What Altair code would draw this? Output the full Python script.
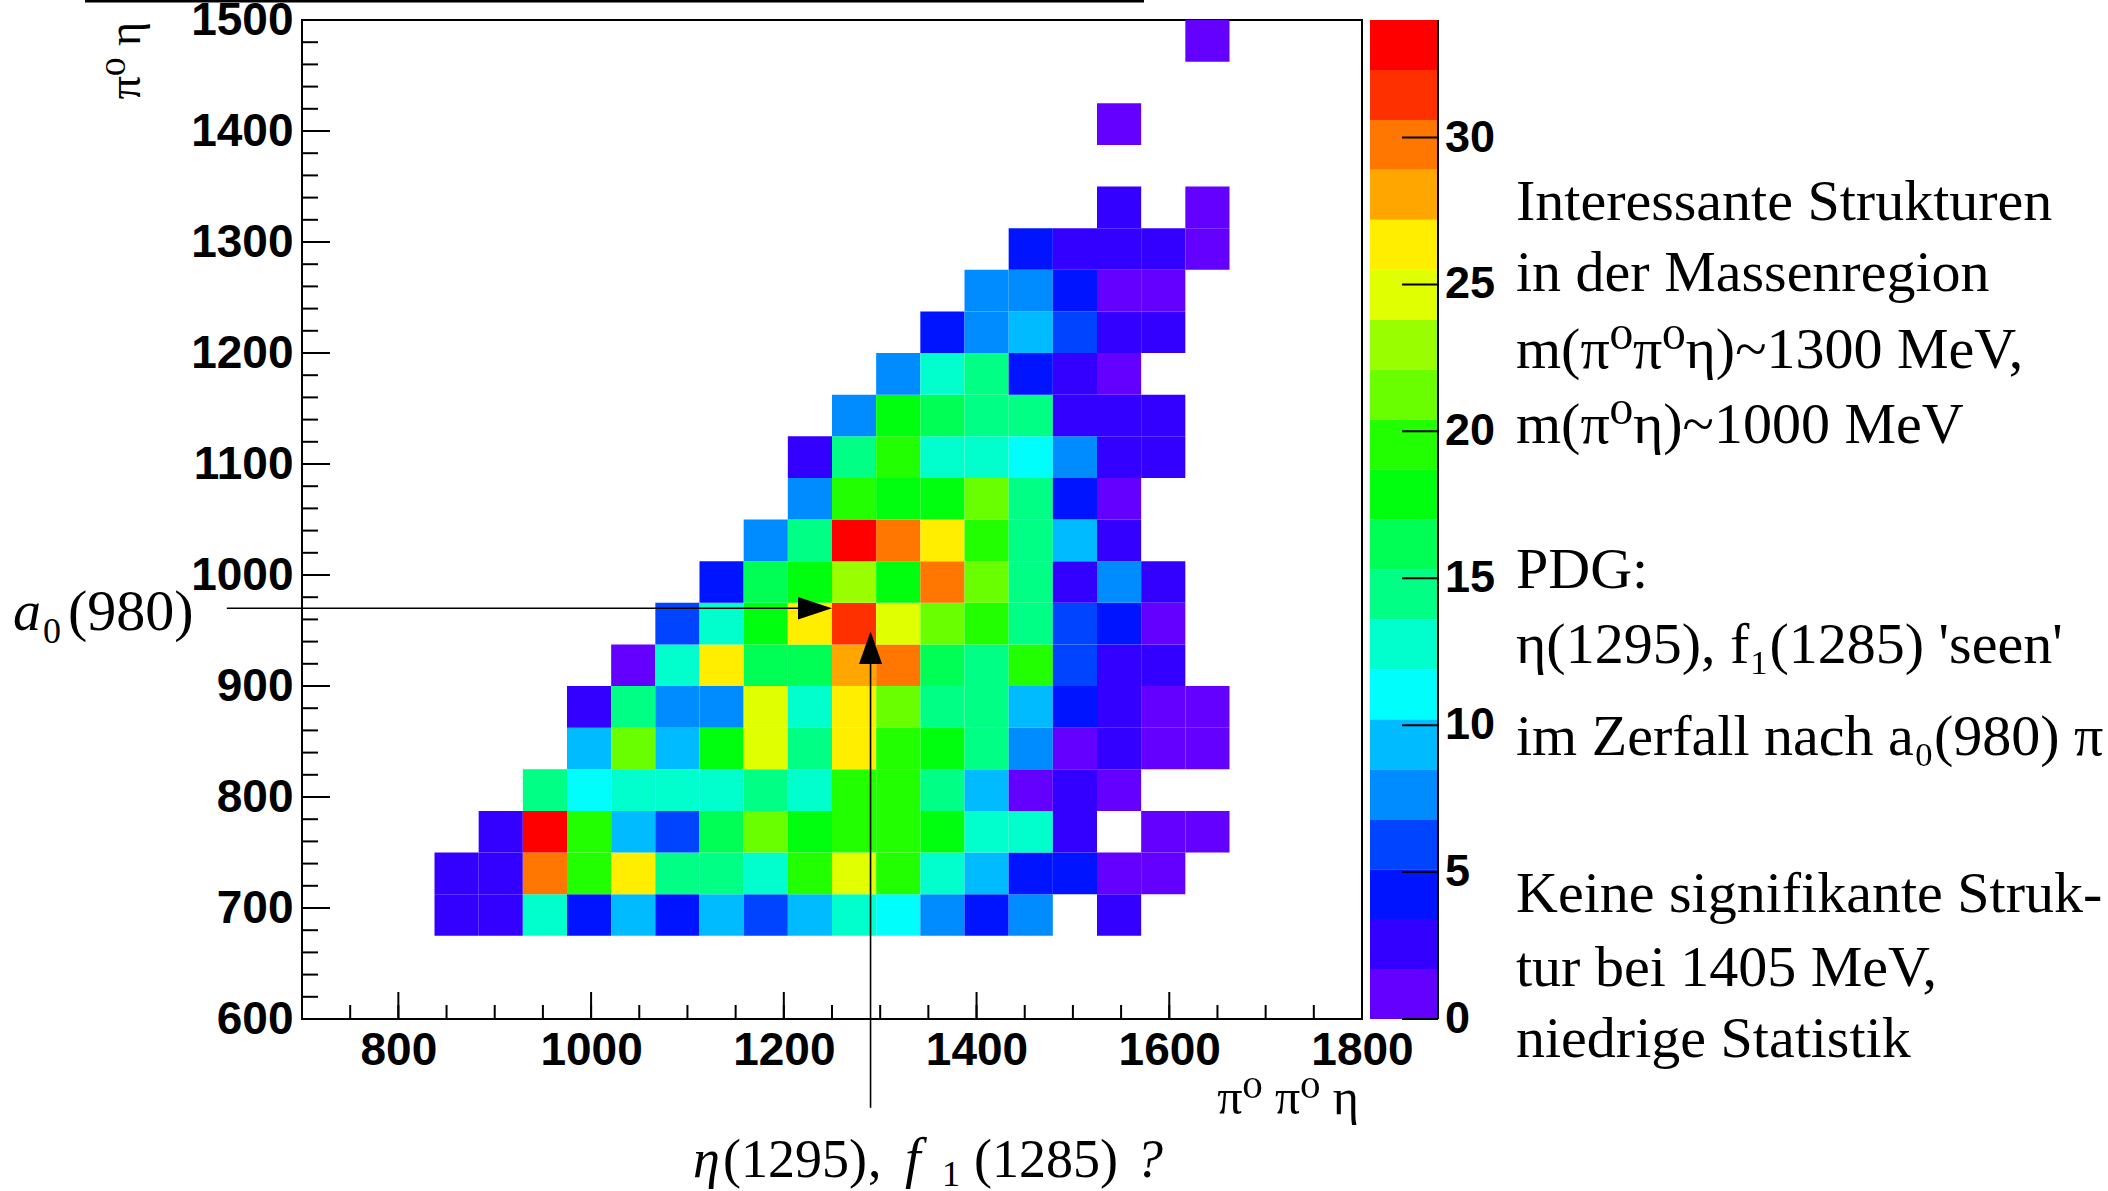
import altair as alt
import pandas as pd

# ---------------------------------------------------------------------------
# Binning of the Dalitz-like mass plot (MeV)
# ---------------------------------------------------------------------------
X_MIN, X_MAX, NX = 700.0, 1800.0, 24      # m(pi0 pi0 eta)
Y_MIN, Y_MAX, NY = 600.0, 1500.0, 24      # m(pi0 eta)
Z_MAX = 34.0                              # top of the colour scale
N_LEVELS = 20                             # number of colour contours

DX = (X_MAX - X_MIN) / NX
DY = (Y_MAX - Y_MIN) / NY

# Entries per bin.  Every row lists x-bins 3..20 (837.5 .. 1662.5 MeV);
# the row name gives the y-bin index (lower edge = 600 + 37.5 * index).
FIRST_COL = 3
row_j02 = [3, 2, 13, 4, 9, 5, 10, 6, 9, 12, 11, 7, 4, 8, 0, 2, 0, 0]
row_j03 = [2, 3, 29, 20, 26, 15, 14, 13, 19, 24, 20, 12, 10, 4, 5, 1, 1, 0]
row_j04 = [0, 3, 33, 20, 10, 6, 16, 21, 18, 19, 20, 18, 12, 13, 2, 0, 1, 1]
row_j05 = [0, 0, 14, 11, 12, 13, 12, 15, 13, 19, 20, 14, 9, 1, 2, 1, 0, 0]
row_j06 = [0, 0, 0, 10, 22, 9, 18, 25, 14, 27, 19, 18, 15, 8, 1, 2, 1, 1]
row_j07 = [0, 0, 0, 2, 14, 8, 7, 24, 12, 27, 21, 14, 15, 9, 4, 3, 1, 1]
row_j08 = [0, 0, 0, 0, 1, 13, 26, 16, 16, 28, 30, 16, 15, 19, 6, 3, 2, 0]
row_j09 = [0, 0, 0, 0, 0, 6, 12, 18, 27, 32, 25, 21, 20, 14, 6, 5, 1, 0]
row_j10 = [0, 0, 0, 0, 0, 0, 4, 16, 18, 23, 18, 29, 22, 15, 3, 8, 2, 0]
row_j11 = [0, 0, 0, 0, 0, 0, 0, 7, 15, 34, 30, 26, 19, 14, 9, 2, 0, 0]
row_j12 = [0, 0, 0, 0, 0, 0, 0, 0, 8, 20, 18, 18, 21, 14, 5, 1, 0, 0]
row_j13 = [0, 0, 0, 0, 0, 0, 0, 0, 3, 15, 19, 12, 13, 11, 8, 2, 3, 0]
row_j14 = [0, 0, 0, 0, 0, 0, 0, 0, 0, 7, 18, 16, 15, 14, 3, 3, 2, 0]
row_j15 = [0, 0, 0, 0, 0, 0, 0, 0, 0, 0, 8, 13, 14, 4, 2, 1, 0, 0]
row_j16 = [0, 0, 0, 0, 0, 0, 0, 0, 0, 0, 0, 5, 8, 10, 6, 3, 2, 0]
row_j17 = [0, 0, 0, 0, 0, 0, 0, 0, 0, 0, 0, 0, 8, 7, 4, 1, 1, 0]
row_j18 = [0, 0, 0, 0, 0, 0, 0, 0, 0, 0, 0, 0, 0, 5, 3, 2, 3, 1]
row_j19 = [0, 0, 0, 0, 0, 0, 0, 0, 0, 0, 0, 0, 0, 0, 0, 3, 0, 1]
row_j20 = [0, 0, 0, 0, 0, 0, 0, 0, 0, 0, 0, 0, 0, 0, 0, 0, 0, 0]
row_j21 = [0, 0, 0, 0, 0, 0, 0, 0, 0, 0, 0, 0, 0, 0, 0, 1, 0, 0]
row_j22 = [0, 0, 0, 0, 0, 0, 0, 0, 0, 0, 0, 0, 0, 0, 0, 0, 0, 0]
row_j23 = [0, 0, 0, 0, 0, 0, 0, 0, 0, 0, 0, 0, 0, 0, 0, 0, 0, 1]

ROWS = {
    2: row_j02, 3: row_j03, 4: row_j04, 5: row_j05, 6: row_j06, 7: row_j07,
    8: row_j08, 9: row_j09, 10: row_j10, 11: row_j11, 12: row_j12, 13: row_j13,
    14: row_j14, 15: row_j15, 16: row_j16, 17: row_j17, 18: row_j18, 19: row_j19,
    20: row_j20, 21: row_j21, 22: row_j22, 23: row_j23,
}

# Rainbow palette, one colour per contour level (violet -> red)
PALETTE = [
    "#6300ff", "#3300ff", "#0014ff", "#0044ff", "#008bff",
    "#00bbff", "#00fffc", "#00ffcc", "#00ff85", "#00ff55",
    "#00ff0e", "#22ff00", "#69ff00", "#99ff00", "#e0ff00",
    "#ffee00", "#ffa700", "#ff7700", "#ff3000", "#ff0000",
]

# Axis tick labels
X_LABELS = [800, 1000, 1200, 1400, 1600, 1800]
Y_LABELS = [600, 700, 800, 900, 1000, 1100, 1200, 1300, 1400, 1500]
Z_LABELS = [0, 5, 10, 15, 20, 25, 30]

# Annotation arrows (MeV)
A0_ARROW = {"x": 622.0, "x2": 1232.0, "tip": 1250.0, "y": 970.0}
ETA_ARROW = {"x": 1290.0, "y": 520.0, "y2": 930.0, "tip": 949.0}

RIGHT_TEXT = [
    "Interessante Strukturen",
    "in der Massenregion",
    "m(\u03c0\u2070\u03c0\u2070\u03b7)~1300 MeV,",
    "m(\u03c0\u2070\u03b7)~1000 MeV",
    "PDG:",
    "\u03b7(1295), f\u2081(1285) 'seen'",
    "im Zerfall nach a\u2080(980) \u03c0",
    "Keine signifikante Struk-",
    "tur bei 1405 MeV,",
    "niedrige Statistik",
]
RIGHT_TEXT_Y = [200, 271, 348, 423, 568, 643, 735, 892, 966, 1037]

# ---------------------------------------------------------------------------
# Data frames
# ---------------------------------------------------------------------------
cells = []
for j, row in ROWS.items():
    for k, c in enumerate(row):
        if c > 0:
            i = FIRST_COL + k
            cells.append({
                "x_lo": X_MIN + i * DX, "x_hi": X_MIN + (i + 1) * DX,
                "y_lo": Y_MIN + j * DY, "y_hi": Y_MIN + (j + 1) * DY,
                "count": c,
            })
cells = pd.DataFrame(cells)

step = Z_MAX / N_LEVELS
bands = pd.DataFrame({
    "lo": [b * step for b in range(N_LEVELS)],
    "hi": [(b + 1) * step for b in range(N_LEVELS)],
    "mid": [(b + 0.5) * step for b in range(N_LEVELS)],
})

y_minor = pd.DataFrame({"v": [Y_MIN + 20 * k for k in range(46)]})
y_major = pd.DataFrame({"v": [Y_MIN + 100 * k for k in range(10)]})
x_minor = pd.DataFrame({"v": [X_MIN + 50 * k for k in range(23)]})
x_major = pd.DataFrame({"v": [800 + 200 * k for k in range(6)]})
z_ticks = pd.DataFrame({"v": Z_LABELS, "t": [str(v) for v in Z_LABELS]})

# ---------------------------------------------------------------------------
# Scales and styles
# ---------------------------------------------------------------------------
W, H = 1060, 999
xs = alt.Scale(domain=[X_MIN, X_MAX], nice=False, zero=False)
ys = alt.Scale(domain=[Y_MIN, Y_MAX], nice=False, zero=False)
zs = alt.Scale(domain=[0, Z_MAX], nice=False, zero=False)
cs = alt.Scale(type="quantize", domain=[0, Z_MAX], range=PALETTE, nice=False, zero=False)

SANS = "Liberation Sans, Arial, Helvetica, sans-serif"
SERIF = "Liberation Serif, Times New Roman, DejaVu Serif, serif"

# ---------------------------------------------------------------------------
# Heat map
# ---------------------------------------------------------------------------
heat = alt.Chart(cells).mark_rect(strokeWidth=0).encode(
    x=alt.X("x_lo:Q", scale=xs, axis=alt.Axis(
        values=X_LABELS, format="d", ticks=False, domain=False, grid=False, title=None,
        labelFont=SANS, labelFontSize=46, labelFontWeight="bold",
        labelColor="black", labelPadding=9, labelFlush=False, labelOverlap=False)),
    x2="x_hi:Q",
    y=alt.Y("y_lo:Q", scale=ys, axis=alt.Axis(
        values=Y_LABELS, format="d", ticks=False, domain=False, grid=False, title=None,
        labelFont=SANS, labelFontSize=46, labelFontWeight="bold",
        labelColor="black", labelPadding=9, labelFlush=False, labelOverlap=False)),
    y2="y_hi:Q",
    color=alt.Color("count:Q", scale=cs, legend=None),
)

# inward-pointing axis ticks on the frame
def y_ticks(df, length):
    return alt.Chart(df).mark_rule(color="black", strokeWidth=2).encode(
        y=alt.Y("v:Q", scale=ys, axis=None), x=alt.value(0), x2=alt.value(length))

def x_ticks(df, length):
    return alt.Chart(df).mark_rule(color="black", strokeWidth=2).encode(
        x=alt.X("v:Q", scale=xs, axis=None), y=alt.value(H), y2=alt.value(H - length))

ticks = [y_ticks(y_minor, 16), y_ticks(y_major, 28), x_ticks(x_minor, 14), x_ticks(x_major, 27)]

# ---------------------------------------------------------------------------
# Colour bar (to the right of the frame)
# ---------------------------------------------------------------------------
CB_X0, CB_X1 = 1068, 1136
cbar = alt.Chart(bands).mark_rect(strokeWidth=0).encode(
    y=alt.Y("lo:Q", scale=zs, axis=None), y2="hi:Q",
    x=alt.value(CB_X0), x2=alt.value(CB_X1),
    color=alt.Color("mid:Q", scale=cs, legend=None),
)
cbar_edge = alt.Chart(pd.DataFrame({"v": [0.0], "v2": [Z_MAX]})).mark_rule(
    color="black", strokeWidth=2).encode(
    y=alt.Y("v:Q", scale=zs, axis=None), y2="v2:Q", x=alt.value(CB_X1))
cbar_ticks = alt.Chart(z_ticks).mark_rule(color="black", strokeWidth=2).encode(
    y=alt.Y("v:Q", scale=zs, axis=None), x=alt.value(CB_X1 - 36), x2=alt.value(CB_X1))
cbar_labels = alt.Chart(z_ticks).mark_text(
    align="left", baseline="middle", font=SANS, fontSize=45, fontWeight="bold",
    color="black").encode(
    y=alt.Y("v:Q", scale=zs, axis=None), x=alt.value(CB_X1 + 7), text="t:N")

# ---------------------------------------------------------------------------
# Arrows
# ---------------------------------------------------------------------------
a0_line = alt.Chart(pd.DataFrame([A0_ARROW])).mark_rule(color="black", strokeWidth=1.6).encode(
    x=alt.X("x:Q", scale=xs, axis=None), x2="x2:Q", y=alt.Y("y:Q", scale=ys, axis=None))
a0_head = alt.Chart(pd.DataFrame([A0_ARROW])).mark_point(
    shape="M0,0L-2,-0.66L-2,0.66Z", size=1156, filled=True, opacity=1,
    color="black", strokeWidth=0).encode(
    x=alt.X("tip:Q", scale=xs, axis=None), y=alt.Y("y:Q", scale=ys, axis=None))
eta_line = alt.Chart(pd.DataFrame([ETA_ARROW])).mark_rule(color="black", strokeWidth=1.6).encode(
    x=alt.X("x:Q", scale=xs, axis=None), y=alt.Y("y:Q", scale=ys, axis=None), y2="y2:Q")
eta_head = alt.Chart(pd.DataFrame([ETA_ARROW])).mark_point(
    shape="M0,0L-0.68,1.9L0.68,1.9Z", size=1156, filled=True, opacity=1,
    color="black", strokeWidth=0).encode(
    x=alt.X("x:Q", scale=xs, axis=None), y=alt.Y("tip:Q", scale=ys, axis=None))

# ---------------------------------------------------------------------------
# Text
# ---------------------------------------------------------------------------
def label(text, x, y, size, font=SERIF, style="normal", weight="normal",
          align="left", baseline="alphabetic", angle=0):
    return alt.Chart(pd.DataFrame({"t": [text]})).mark_text(
        align=align, baseline=baseline, font=font, fontSize=size,
        fontStyle=style, fontWeight=weight, angle=angle, color="black",
    ).encode(x=alt.value(x), y=alt.value(y), text="t:N")

texts = [
    # axis titles
    label("\u03c0\u2070 \u03b7", -176, 2, 46, align="right", baseline="middle", angle=270),
    label("\u03c0\u2070 \u03c0\u2070 \u03b7", 1057, 1079, 50, align="right", baseline="middle"),
    # a0(980)
    label("a", -289, 610, 56, style="italic"),
    label("0", -259, 623, 36),
    label("(980)", -234, 610, 58),
    # eta(1295), f1(1285)?
    label("\u03b7", 391, 1157, 54, style="italic"),
    label("(1295)", 421, 1157, 54),
    label(",", 566, 1157, 54),
    label("f", 603, 1157, 56, style="italic"),
    label("1", 640, 1166, 36),
    label("(1285)", 672, 1157, 54),
    label("?", 834, 1157, 54, style="italic"),
]
for line, yy in zip(RIGHT_TEXT, RIGHT_TEXT_Y):
    texts.append(label(line, 1214, yy, 58))

# thin rule above the plot
top_rule = alt.Chart(pd.DataFrame({"t": [0]})).mark_rule(color="black", strokeWidth=3).encode(
    x=alt.value(-217), x2=alt.value(842), y=alt.value(-19))

chart = alt.layer(
    heat, cbar, cbar_edge, cbar_ticks, cbar_labels, *ticks,
    a0_line, a0_head, eta_line, eta_head, top_rule, *texts,
).resolve_scale(
    x="independent", y="independent", color="shared",
).properties(
    width=W, height=H,
    padding={"left": 302, "top": 20, "right": 746, "bottom": 172},
    autosize=alt.AutoSizeParams(type="none"),
    background="white",
).configure_view(
    stroke="black", strokeWidth=2,
)

chart.save("out.html", embed_options={"renderer": "svg", "actions": False})
